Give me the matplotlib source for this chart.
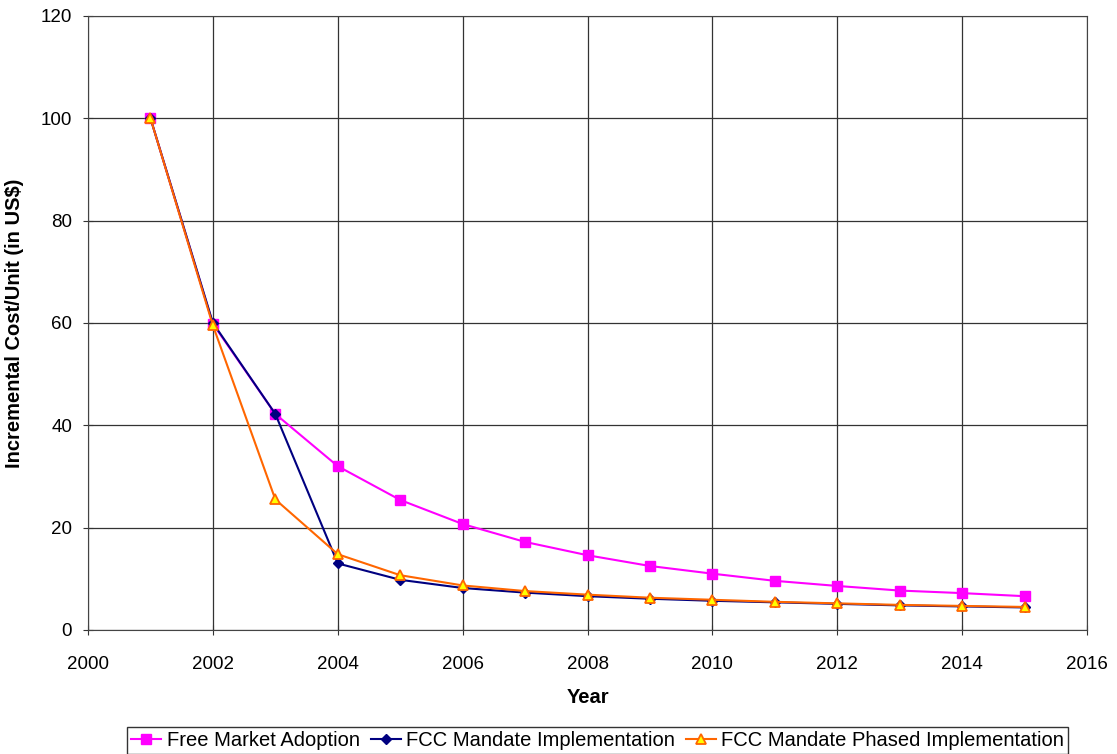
import matplotlib
matplotlib.use("Agg")
import matplotlib.pyplot as plt

plt.rcParams['font.family'] = ['Liberation Sans', 'DejaVu Sans']

years = list(range(2001, 2016))
free_market = [100, 59.8, 42.2, 32.0, 25.4, 20.7, 17.2, 14.6, 12.5, 11.0,
               9.6, 8.6, 7.7, 7.2, 6.6]
fcc_mandate = [100, 60.0, 42.2, 13.0, 9.8, 8.2, 7.3, 6.6, 6.1, 5.7,
               5.4, 5.1, 4.8, 4.6, 4.4]
fcc_phased = [100, 59.5, 25.5, 14.8, 10.7, 8.7, 7.6, 6.9, 6.3, 5.9,
              5.5, 5.2, 4.9, 4.7, 4.5]

fig = plt.figure(figsize=(11.17, 7.54), dpi=100)
ax = fig.add_axes([0.0788, 0.1645, 0.8944, 0.8145])

ax.plot(years, free_market, color='#ff00ff', lw=1.5, marker='s',
        markersize=7, markeredgecolor='#ff00ff', label='Free Market Adoption')
ax.plot(years, fcc_mandate, color='#000080', lw=1.5, marker='D',
        markersize=5.5, label='FCC Mandate Implementation')
ax.plot(years, fcc_phased, color='#ff6600', lw=1.5, marker='^',
        markersize=7.5, markerfacecolor='#ffff00', markeredgecolor='#ff6600',
        markeredgewidth=1.3, label='FCC Mandate Phased Implementation')

ax.set_xlim(2000, 2016)
ax.set_ylim(0, 120)
ax.set_xticks(range(2000, 2017, 2))
ax.set_yticks(range(0, 121, 20))
ax.tick_params(labelsize=13.5, direction='inout', length=7, color='#333333')
ax.tick_params(axis='x', pad=15)
ax.tick_params(axis='y', pad=8)
ax.grid(True, color='#333333', lw=0.9)
ax.set_axisbelow(True)
for s in ax.spines.values():
    s.set_color('#444444')

ax.set_xlabel('Year', fontsize=14.5, fontweight='bold', labelpad=11)
ax.set_ylabel('Incremental Cost/Unit (in US$)', fontsize=14.5,
              fontweight='bold', labelpad=12)

leg = fig.legend(loc='lower center', bbox_to_anchor=(0.535, -0.014), ncol=3,
                 fontsize=14.5, frameon=True, fancybox=False, handlelength=1.5,
                 handletextpad=0.25, columnspacing=0.55, borderpad=0.2)
leg.get_frame().set_edgecolor('black')
leg.get_frame().set_linewidth(1.0)

fig.savefig('out.png', dpi=100)
